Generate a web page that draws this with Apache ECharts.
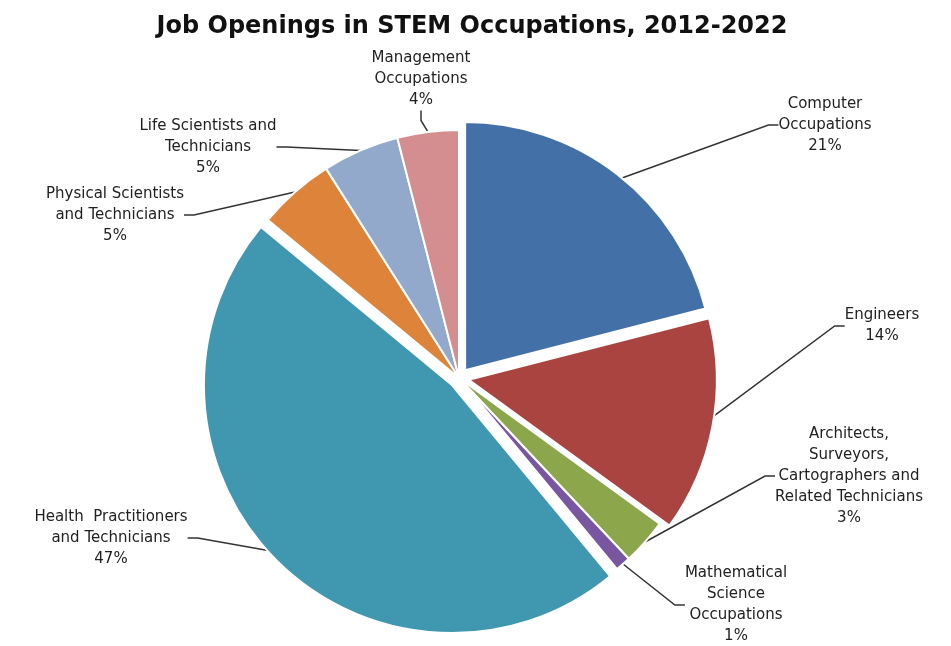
<!DOCTYPE html>
<html><head><meta charset="utf-8">
<script src="https://cdn.jsdelivr.net/npm/echarts@6/dist/echarts.min.js"></script>
<style>html,body{margin:0;padding:0;background:#fff}#c{width:951px;height:646px}</style>
</head><body><div id="c"></div>
<script>
const categories = [
  "Computer\nOccupations",
  "Engineers",
  "Architects,\nSurveyors,\nCartographers and\nRelated Technicians",
  "Mathematical\nScience\nOccupations",
  "Health  Practitioners\nand Technicians",
  "Physical Scientists\nand Technicians",
  "Life Scientists and\nTechnicians",
  "Management\nOccupations"
];
const values = [21, 14, 3, 1, 47, 5, 5, 4];
const colors = ["#4470A8", "#AA4441", "#8BA64B", "#7856A0", "#3F98AF", "#DE843A", "#92A9CB", "#D58E90"];
const exploded = [true, true, false, false, true, false, false, false];
const labelPos = [[825,125],[882,326],[849,476],[736,605],[111,538],[115,215],[208,147],[421,79]];

const center = [459, 378];
const radius = 248;
const chart = echarts.init(document.getElementById('c'));
chart.setOption({
  animation: false,
  title: {
    text: 'Job Openings in STEM Occupations, 2012-2022',
    left: 467, top: 10, textAlign: 'center',
    textStyle: {fontFamily: 'DejaVu Sans', fontWeight: 'bold', fontSize: 24, color: '#111'}
  },
  series: [{
    type: 'pie',
    center: center,
    radius: [0, radius],
    startAngle: 90,
    selectedMode: 'multiple',
    selectedOffset: 10,
    silent: true,
    itemStyle: {borderColor: '#fff', borderWidth: 2},
    label: {show: false},
    labelLine: {show: false},
    data: categories.map((n, i) => ({name: n, value: values[i], selected: exploded[i], itemStyle: {color: colors[i]}}))
  }, {
    type: 'pie',
    center: center,
    radius: [0, radius],
    startAngle: 90,
    silent: true,
    avoidLabelOverlap: false,
    itemStyle: {color: 'rgba(0,0,0,0)', borderWidth: 0},
    label: {
      show: true, position: 'outside',
      formatter: p => p.name + '\n' + p.value + '%',
      fontFamily: 'DejaVu Sans', fontSize: 15, color: '#222', lineHeight: 21, align: 'center'
    },
    labelLine: {show: true, length: 15, length2: 10, lineStyle: {color: '#333', width: 1.5}},
    labelLayout: p => ({x: labelPos[p.dataIndex][0], y: labelPos[p.dataIndex][1], align: 'center', verticalAlign: 'middle'}),
    data: categories.map((n, i) => ({name: n, value: values[i]}))
  }]
});
</script></body></html>
